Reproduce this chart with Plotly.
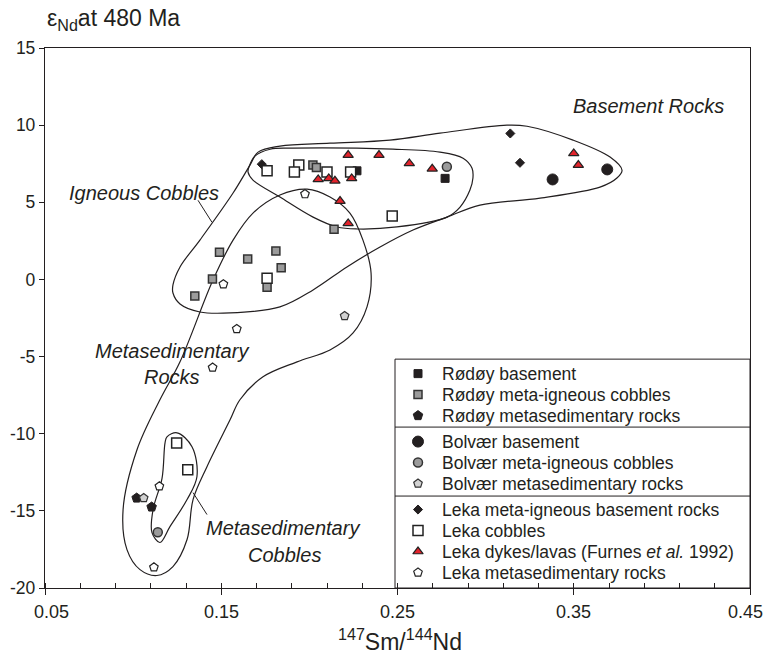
import plotly.graph_objects as go

# ---------------- data (147Sm/144Nd, eps Nd at 480 Ma) ----------------
rodoy_basement_x = [0.227, 0.277]
rodoy_basement_y = [7.04, 6.55]
rodoy_cobbles_x = [0.202, 0.204, 0.214, 0.149, 0.165, 0.181, 0.184, 0.145, 0.176, 0.135]
rodoy_cobbles_y = [7.41, 7.26, 3.25, 1.76, 1.32, 1.84, 0.76, 0.03, -0.51, -1.07]
rodoy_metased_x = [0.102, 0.1105]
rodoy_metased_y = [-14.17, -14.75]

bolvaer_basement_x = [0.338, 0.369]
bolvaer_basement_y = [6.48, 7.13]
bolvaer_cobbles_x = [0.278, 0.114]
bolvaer_cobbles_y = [7.30, -16.39]
bolvaer_metased_x = [0.220, 0.106]
bolvaer_metased_y = [-2.37, -14.17]

leka_basement_x = [0.173, 0.314, 0.3195]
leka_basement_y = [7.47, 9.46, 7.56]
leka_cobbles_x = [0.176, 0.194, 0.1915, 0.210, 0.2234, 0.247, 0.176, 0.1247, 0.131]
leka_cobbles_y = [7.04, 7.41, 6.97, 6.97, 6.97, 4.11, 0.07, -10.6, -12.33]
leka_dykes_x = [0.205, 0.211, 0.2145, 0.222, 0.2395, 0.2567, 0.2697, 0.224, 0.2174, 0.222, 0.350, 0.3526]
leka_dykes_y = [6.48, 6.55, 6.39, 8.06, 8.06, 7.52, 7.17, 6.55, 5.08, 3.63, 8.17, 7.41]
leka_metased_x = [0.1975, 0.1512, 0.1588, 0.1451, 0.1149, 0.1118]
leka_metased_y = [5.53, -0.31, -3.21, -5.71, -13.41, -18.66]

# ---------------- field envelopes (data units) ----------------
igneous_env_x = [0.1226, 0.1266, 0.1379, 0.1567, 0.1663, 0.1709, 0.1833, 0.2117, 0.2457, 0.2741,
                 0.3121, 0.3235, 0.3496, 0.3706, 0.3774, 0.3745, 0.3649, 0.3309, 0.2968, 0.2781,
                 0.2588, 0.2401, 0.2213, 0.2021, 0.1833, 0.1550, 0.1379, 0.1266, 0.1226]
igneous_env_y = [-0.36, 0.81, 2.55, 5.60, 7.41, 8.25, 8.64, 8.83, 9.03, 9.48,
                 10.0, 9.93, 9.03, 7.93, 7.08, 6.57, 5.98, 5.27, 4.82, 4.04,
                 3.20, 2.10, 0.81, -0.68, -1.78, -2.17, -2.11, -1.59, -0.88]

basement_env_x = [0.1657, 0.1691, 0.1777, 0.1907, 0.2474, 0.2741, 0.2872, 0.2923, 0.2928, 0.2911,
                  0.2855, 0.2781, 0.2497, 0.2270, 0.2157, 0.2021, 0.1833, 0.1680, 0.1652]
basement_env_y = [7.28, 7.99, 8.44, 8.51, 8.44, 8.25, 7.86, 7.21, 6.57, 5.79,
                  4.69, 4.04, 3.40, 3.27, 3.40, 4.04, 5.34, 6.44, 6.95]

metased_env_x = [0.1987, 0.2117, 0.2230, 0.2304, 0.2350, 0.2327, 0.2248, 0.2117, 0.1930, 0.1737,
                 0.1606, 0.1550, 0.1419, 0.1340, 0.1306, 0.1226, 0.1135, 0.1039, 0.0965, 0.0943,
                 0.1022, 0.1152, 0.1266, 0.1453, 0.1567, 0.1680, 0.1833]
metased_env_y = [5.85, 5.34, 4.30, 2.55, 0.42, -1.78, -3.47, -4.57, -5.34, -6.31,
                 -7.80, -9.10, -12.14, -14.27, -16.86, -18.61, -19.19, -18.81, -17.51, -14.92,
                 -11.04, -7.80, -5.34, -0.04, 2.55, 4.30, 5.47]

metased_cobble_env_x = [0.1192, 0.1249, 0.1334, 0.1362, 0.1306, 0.1209, 0.1152, 0.1107, 0.1113, 0.1164, 0.1181]
metased_cobble_env_y = [-10.20, -9.94, -10.84, -12.79, -14.27, -16.02, -17.05, -16.41, -14.92, -12.89, -10.59]

# leader lines for labels
igneous_leader_x = [0.1368, 0.1447]
igneous_leader_y = [5.13, 3.71]
cobble_leader_x = [0.1340, 0.1419]
cobble_leader_y = [-13.82, -15.24]

x_ticks = [0.05, 0.15, 0.25, 0.35, 0.45]
x_tick_labels = ["0.05", "0.15", "0.25", "0.35", "0.45"]
y_ticks = [15, 10, 5, 0, -5, -10, -15, -20]
y_tick_labels = ["15", "10", "5", "0", "-5", "-10", "-15", "-20"]

FONT = "Liberation Sans, Arial, sans-serif"
INK = "#231f20"
GREY = "#9b9b9b"
LIGHT = "#d2d2d2"
RED = "#e3232b"

series = [
    ("Rødøy basement", rodoy_basement_x, rodoy_basement_y,
     dict(symbol="square", size=8, color=INK, line=dict(color=INK, width=1))),
    ("Rødøy meta-igneous cobbles", rodoy_cobbles_x, rodoy_cobbles_y,
     dict(symbol="square", size=8, color=GREY, line=dict(color="#333333", width=1.5))),
    ("Rødøy metasedimentary rocks", rodoy_metased_x, rodoy_metased_y,
     dict(symbol="pentagon", size=10, color=INK, line=dict(color=INK, width=1))),
    ("Bolvær basement", bolvaer_basement_x, bolvaer_basement_y,
     dict(symbol="circle", size=11, color=INK, line=dict(color=INK, width=1))),
    ("Bolvær meta-igneous cobbles", bolvaer_cobbles_x, bolvaer_cobbles_y,
     dict(symbol="circle", size=9, color=GREY, line=dict(color="#333333", width=1.5))),
    ("Bolvær metasedimentary rocks", bolvaer_metased_x, bolvaer_metased_y,
     dict(symbol="pentagon", size=9, color=LIGHT, line=dict(color="#333333", width=1.2))),
    ("Leka meta-igneous basement rocks", leka_basement_x, leka_basement_y,
     dict(symbol="diamond", size=7, color=INK, line=dict(color=INK, width=1))),
    ("Leka cobbles", leka_cobbles_x, leka_cobbles_y,
     dict(symbol="square", size=10, color="white", line=dict(color="#222222", width=1.5))),
    ("Leka dykes/lavas (Furnes <i>et al.</i> 1992)", leka_dykes_x, leka_dykes_y,
     dict(symbol="triangle-up", size=9, color=RED, line=dict(color="#222222", width=1.2))),
    ("Leka metasedimentary rocks", leka_metased_x, leka_metased_y,
     dict(symbol="pentagon", size=9, color="white", line=dict(color="#222222", width=1.2))),
]

fig = go.Figure()

def closed(xs, ys):
    return list(xs) + [xs[0]], list(ys) + [ys[0]]

for ex, ey in [(igneous_env_x, igneous_env_y), (basement_env_x, basement_env_y),
               (metased_env_x, metased_env_y), (metased_cobble_env_x, metased_cobble_env_y)]:
    cx, cy = closed(ex, ey)
    fig.add_trace(go.Scatter(x=cx, y=cy, mode="lines", showlegend=False, hoverinfo="skip",
                             line=dict(color=INK, width=1.2, shape="spline", smoothing=1.0)))
for lx, ly in [(igneous_leader_x, igneous_leader_y), (cobble_leader_x, cobble_leader_y)]:
    fig.add_trace(go.Scatter(x=lx, y=ly, mode="lines", showlegend=False, hoverinfo="skip",
                             line=dict(color=INK, width=1)))

for name, xs, ys, mk in series:
    fig.add_trace(go.Scatter(x=xs, y=ys, mode="markers", name=name, marker=mk, showlegend=False))

# ---------------- hand-built legend box ----------------
L, R, T, B = 45, 750, 47.7, 588   # plot area in px
W, H = R - L, B - T
def px(x):
    return (x - L) / W
def py(y):
    return (B - y) / H

leg_left, leg_top = 395, 359
row_y = []
y0 = 373.5
for gi, n in enumerate([3, 3, 4]):
    for k in range(n):
        row_y.append(y0)
        y0 += 21
    y0 += 5
for (name, xs, ys, mk), ry in zip(series, row_y):
    fig.add_trace(go.Scatter(x=[px(418)], y=[py(ry)], xaxis="x2", yaxis="y2", mode="markers",
                             marker=mk, showlegend=False, hoverinfo="skip"))
    fig.add_annotation(xref="paper", yref="paper", x=px(440), y=py(ry), text=name,
                       showarrow=False, xanchor="left", yanchor="middle",
                       font=dict(family=FONT, size=17.5, color=INK))

shapes = [
    dict(type="rect", xref="paper", yref="paper", x0=px(leg_left), x1=1, y0=0, y1=py(leg_top),
         line=dict(color=INK, width=1), fillcolor="rgba(0,0,0,0)"),
    dict(type="line", xref="paper", yref="paper", x0=px(leg_left), x1=1, y0=py(427), y1=py(427),
         line=dict(color=INK, width=1)),
    dict(type="line", xref="paper", yref="paper", x0=px(leg_left), x1=1, y0=py(496), y1=py(496),
         line=dict(color=INK, width=1)),
]

# x tick labels (edge labels nudged inward as in the original)
nudges = [6, 0, 0, 0, -5]
for v, t, dx in zip(x_ticks, x_tick_labels, nudges):
    fig.add_annotation(xref="x", yref="paper", x=v, y=py(612), text=t, showarrow=False,
                       xanchor="center", yanchor="middle", xshift=dx,
                       font=dict(family=FONT, size=18, color=INK))

# ---------------- labels ----------------
ital = dict(family=FONT, size=20, color=INK)
labels = [
    (648, 106, "<i>Basement Rocks</i>"),
    (144, 193, "<i>Igneous Cobbles</i>"),
    (172, 351, "<i>Metasedimentary</i>"),
    (172, 377, "<i>Rocks</i>"),
    (283, 528, "<i>Metasedimentary</i>"),
    (284, 555, "<i>Cobbles</i>"),
]
for lx, ly, t in labels:
    fig.add_annotation(xref="paper", yref="paper", x=px(lx), y=py(ly), text=t, showarrow=False,
                       xanchor="center", yanchor="middle", font=ital)

fig.add_annotation(xref="paper", yref="paper", x=px(45), y=py(19), text="ε<sub>Nd</sub>at 480 Ma",
                   showarrow=False, xanchor="left", yanchor="middle",
                   font=dict(family=FONT, size=23, color=INK))
fig.add_annotation(xref="paper", yref="paper", x=px(400), y=py(640),
                   text="<sup>147</sup>Sm/<sup>144</sup>Nd", showarrow=False,
                   xanchor="center", yanchor="middle", font=dict(family=FONT, size=23, color=INK))

fig.update_layout(
    width=766, height=663,
    margin=dict(l=L, r=766 - R, t=T, b=663 - B, autoexpand=False),
    paper_bgcolor="white", plot_bgcolor="white",
    font=dict(family=FONT, color=INK),
    shapes=shapes,
    showlegend=False,
    xaxis=dict(range=[0.05, 0.45], tickvals=x_ticks, showticklabels=False,
               showgrid=False, zeroline=False, showline=True, linecolor=INK, linewidth=1.3,
               mirror=True, ticks="outside", ticklen=6, tickcolor=INK, tickwidth=1,
               minor=dict(dtick=0.02, tick0=0.05, ticks="inside", ticklen=5, tickcolor=INK, tickwidth=1)),
    yaxis=dict(range=[-20, 15], tickvals=y_ticks, ticktext=y_tick_labels,
               showgrid=False, zeroline=False, showline=True,
               linecolor=INK, linewidth=1.3, mirror=True, ticks="outside", ticklen=5, tickcolor=INK,
               tickwidth=1, tickfont=dict(family=FONT, size=17.5, color=INK)),
    xaxis2=dict(range=[0, 1], overlaying="x", visible=False, fixedrange=True),
    yaxis2=dict(range=[0, 1], overlaying="y", visible=False, fixedrange=True),
)

fig.write_html("out.html", config={"displayModeBar": False},
               post_script="document.body.style.margin='0';document.body.style.overflow='hidden';")
